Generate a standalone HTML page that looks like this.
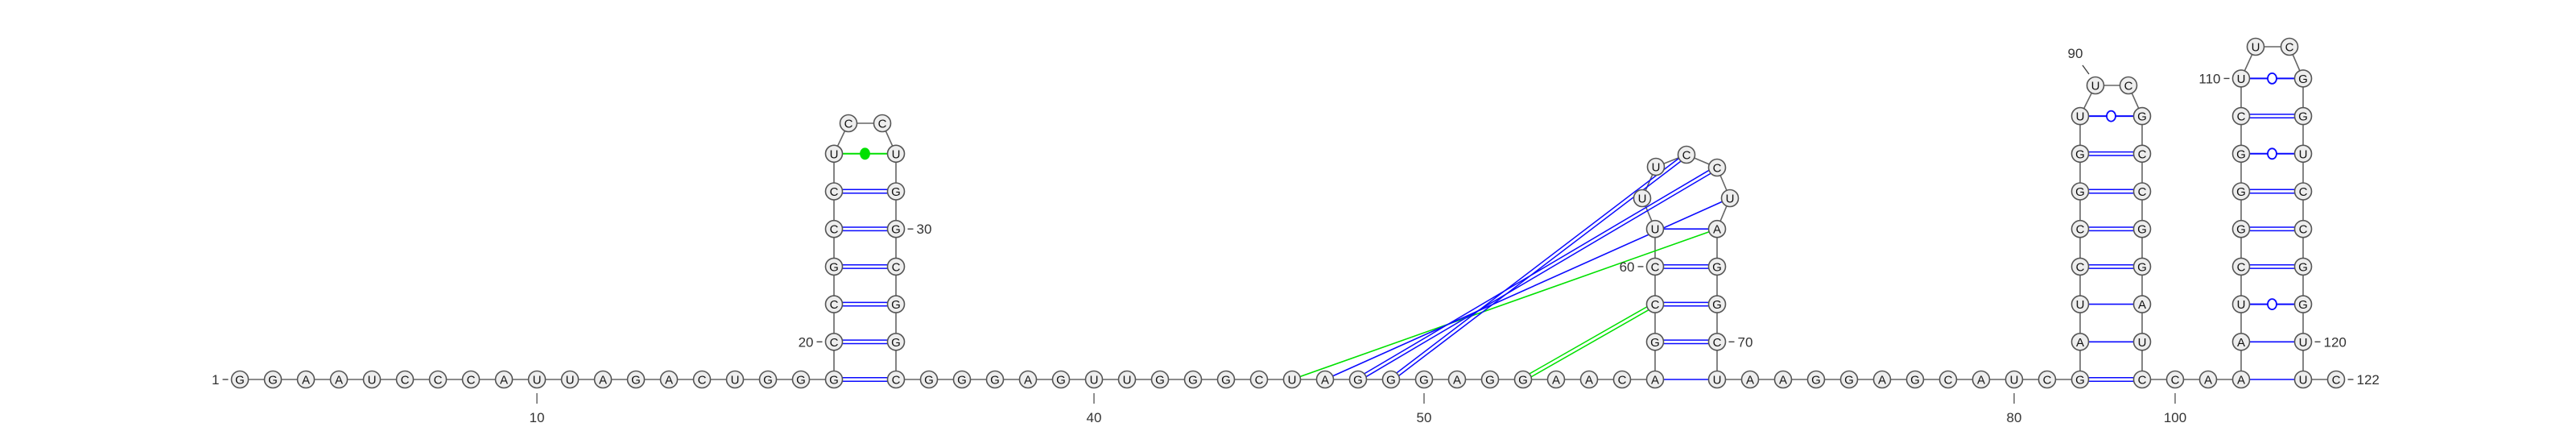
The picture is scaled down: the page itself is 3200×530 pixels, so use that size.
<!DOCTYPE html>
<html><head><meta charset="utf-8"><style>
html,body{margin:0;padding:0;background:#fff;}
svg{display:block;}
text{font-family:"Liberation Sans",sans-serif;}
</style></head><body>
<svg id="chart" width="3200" height="530" viewBox="0 0 3200 530" xmlns="http://www.w3.org/2000/svg">
<g id="bonds"></g><g id="backbone"></g><g id="pairs"></g><g id="nts"></g><g id="labels"></g>
</svg>
<script>
const sequence = "GGAAUCCCAUUAGACUGGG" + "CCGCCU" + "CC" + "UGGCGGC" +
  "GGGAGUUGGGCUAGGGAGGAACA" + "GCCUUU" + "CC" + "UAGGCU" +
  "AAGGAGCAUCG" + "AUCCGGU" + "UC" + "GCCGGAUC" +
  "CAA" + "AUCGGGCU" + "UC" + "GGUCCGGUU" + "C";
const pairI = [19,20,21,22,23,24,25, 46,47,48,49,53, 57,58,59,60,61, 82,83,84,85,86,87,88,89, 102,103,104,105,106,107,108,109,110];
const pairJ = [34,33,32,31,30,29,28, 67,66,65,64,59, 71,70,69,68,67, 99,98,97,96,95,94,93,92, 121,120,119,118,117,116,115,114,113];
const pairKind = ["d","d","d","d","d","d","dot", "s","s","d","d","d", "s","d","d","d","s", "d","s","s","d","d","d","d","o", "s","s","o","d","d","d","o","d","o"];
const pairColor = ["b","b","b","b","b","b","g", "g","b","b","b","g", "b","b","b","b","b", "b","b","b","b","b","b","b","b", "b","b","b","b","b","b","b","b","b"];
const tickNums = [10,40,50,80,100];
const sideLabels = [[1,"L"],[20,"L"],[30,"R"],[60,"L"],[70,"R"],[110,"L"],[120,"R"],[122,"R"]];

const DX=41, DY=46.7, BY=471, R=10.5;
const P={};
function stem(a,b,xl,xr,loop){
  const n=(b-a+1-loop.length)/2;
  for(let k=0;k<n;k++){P[a+k]=[xl,BY-k*DY];P[b-k]=[xr,BY-k*DY];}
  loop.forEach((p,i)=>{P[a+n+i]=p;});
}
for(let i=1;i<=19;i++)P[i]=[298+(i-1)*DX,BY];
stem(19,34,1036,1113,[[1054,153],[1096,153]]);
for(let i=34;i<=57;i++)P[i]=[1113+(i-34)*DX,BY];
stem(57,71,2056,2133,[[2040,246],[2057,207],[2095,192],[2133,208],[2149,246]]);
for(let i=71;i<=82;i++)P[i]=[2133+(i-71)*DX,BY];
stem(82,99,2584,2661,[[2603,106],[2644,106]]);
for(let i=99;i<=102;i++)P[i]=[2661+(i-99)*DX,BY];
stem(102,121,2784,2861,[[2802,58],[2844,58]]);
P[122]=[2902,BY];

const NS="http://www.w3.org/2000/svg";
function el(tag,attrs,parent){const e=document.createElementNS(NS,tag);for(const k in attrs)e.setAttribute(k,attrs[k]);document.getElementById(parent).appendChild(e);return e;}

for(let i=1;i<122;i++){
  const a=P[i],b=P[i+1];
  const l=el("line",{x1:a[0],y1:a[1],x2:b[0],y2:b[1],stroke:"#666","stroke-width":1.6},"backbone");
  
  
}
const COL={b:"#0a0aff",g:"#00e000"};
for(let k=0;k<pairI.length;k++){
  const a=P[pairI[k]],b=P[pairJ[k]],c=COL[pairColor[k]],kind=pairKind[k];
  const dx=b[0]-a[0],dy=b[1]-a[1],L=Math.hypot(dx,dy),nx=-dy/L,ny=dx/L;
  const g=el("g",{},"pairs");
  
  
  const ux=dx/L*R,uy=dy/L*R;
  const x1=a[0]+ux,y1=a[1]+uy,x2=b[0]-ux,y2=b[1]-uy;
  if(kind==="d"){
    for(const s of [-2.2,2.2]){
      const ln=document.createElementNS(NS,"line");
      ln.setAttribute("x1",x1+nx*s);ln.setAttribute("y1",y1+ny*s);ln.setAttribute("x2",x2+nx*s);ln.setAttribute("y2",y2+ny*s);
      ln.setAttribute("stroke",c);ln.setAttribute("stroke-width",1.5);g.appendChild(ln);
    }
  } else {
    const ln=document.createElementNS(NS,"line");
    ln.setAttribute("x1",x1);ln.setAttribute("y1",y1);ln.setAttribute("x2",x2);ln.setAttribute("y2",y2);
    ln.setAttribute("stroke",c);ln.setAttribute("stroke-width",kind==="s"?1.6:2);g.appendChild(ln);
    if(kind==="o"||kind==="dot"){
      const e=document.createElementNS(NS,"ellipse");
      e.setAttribute("cx",(a[0]+b[0])/2);e.setAttribute("cy",(a[1]+b[1])/2);e.setAttribute("rx",5.5);e.setAttribute("ry",6.5);
      e.setAttribute("fill",kind==="dot"?c:"#fff");e.setAttribute("stroke",c);e.setAttribute("stroke-width",1.8);g.appendChild(e);
    }
  }
}
for(let i=1;i<=122;i++){
  const p=P[i];
  const g=el("g",{},"nts");
  
  
  const c=document.createElementNS(NS,"circle");
  c.setAttribute("cx",p[0]);c.setAttribute("cy",p[1]);c.setAttribute("r",R);
  c.setAttribute("fill","#eeeeee");c.setAttribute("stroke","#555");c.setAttribute("stroke-width",1.6);g.appendChild(c);
  const t=document.createElementNS(NS,"text");
  t.setAttribute("x",p[0]);t.setAttribute("y",p[1]+5.5);t.setAttribute("text-anchor","middle");
  t.setAttribute("font-size","15");t.setAttribute("fill","#111");t.textContent=sequence[i-1];g.appendChild(t);
}
tickNums.forEach(n=>{
  const p=P[n];
  const l=el("line",{x1:p[0],y1:488,x2:p[0],y2:501,stroke:"#444","stroke-width":1.2},"labels");
  
  
  const t=el("text",{x:p[0],y:524,"text-anchor":"middle","font-size":"17",fill:"#333"},"labels");
  t.textContent=n;
  
  
});
sideLabels.forEach(([n,side])=>{
  const p=P[n];
  const sgn=side==="L"?-1:1;
  const l=el("line",{x1:p[0]+sgn*(R+4),y1:p[1],x2:p[0]+sgn*(R+11),y2:p[1],stroke:"#444","stroke-width":1.4},"labels");
  
  
  const t=el("text",{x:p[0]+sgn*(R+15),y:p[1]+6,"text-anchor":side==="L"?"end":"start","font-size":"17",fill:"#333"},"labels");
  t.textContent=n;
  
  
});
(function(){
  const l=el("line",{x1:2587,y1:81,x2:2595,y2:92,stroke:"#444","stroke-width":1.4},"labels");
  
  
  const t=el("text",{x:2578,y:72,"text-anchor":"middle","font-size":"17",fill:"#333"},"labels");
  t.textContent="90";
  
  
})();
</script>
</body></html>
